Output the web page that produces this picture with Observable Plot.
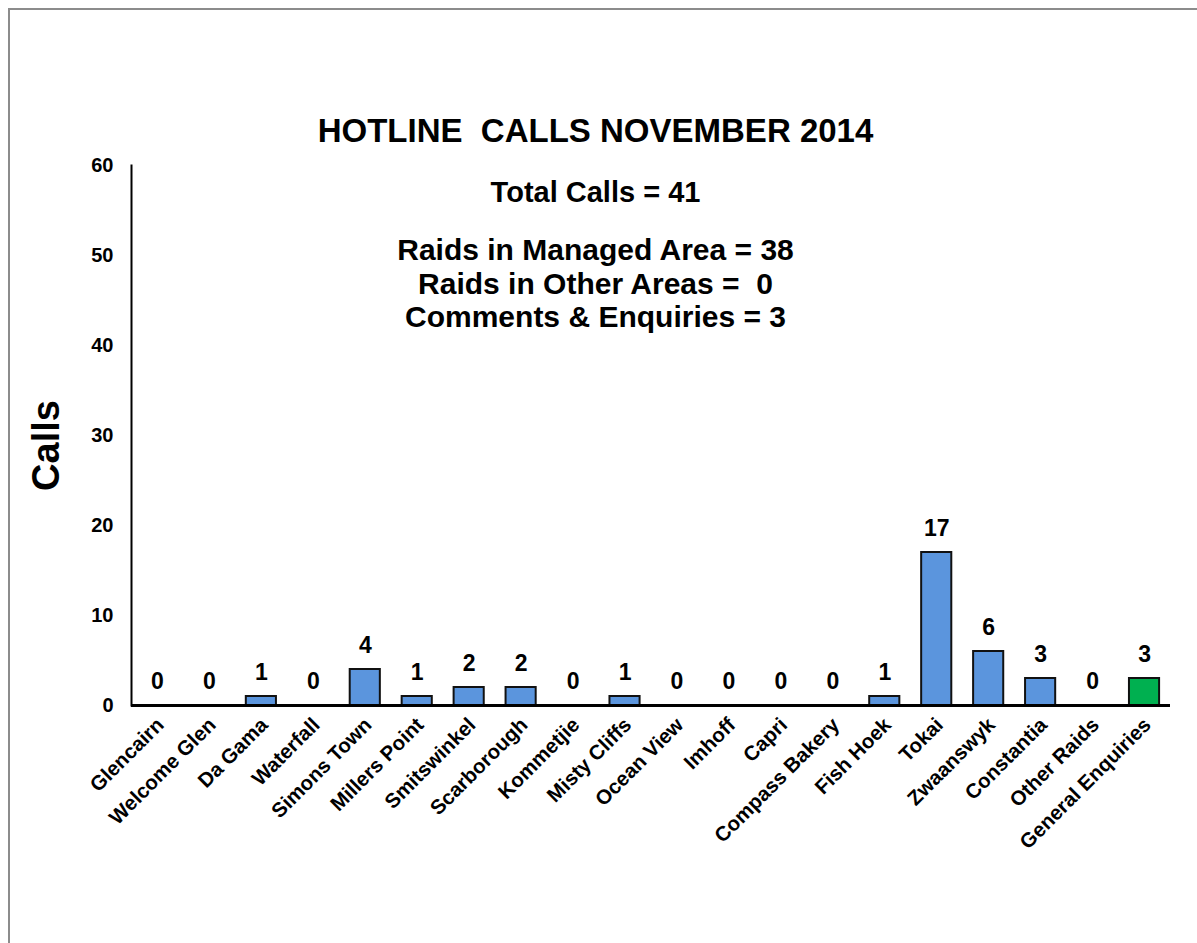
<!DOCTYPE html>
<html><head><meta charset="utf-8">
<script src="https://cdn.jsdelivr.net/npm/d3@7"></script>
<script src="https://cdn.jsdelivr.net/npm/@observablehq/plot@0.6"></script>
<style>
html,body{margin:0;padding:0;background:#fff;overflow:hidden;}
#wrap{position:relative;width:1197px;height:943px;overflow:hidden;}
#frame{position:absolute;left:8px;top:8px;width:1300px;height:1100px;border:2px solid #8c8c8c;box-sizing:border-box;}
#chart{position:absolute;left:0;top:0;}
</style></head><body>
<div id="wrap"><div id="frame"></div><div id="chart"></div></div>
<script>
const categories = ["Glencairn","Welcome Glen","Da Gama","Waterfall","Simons Town","Millers Point","Smitswinkel","Scarborough","Kommetjie","Misty Cliffs","Ocean View","Imhoff","Capri","Compass Bakery","Fish Hoek","Tokai","Zwaanswyk","Constantia","Other Raids","General Enquiries"];
const calls = [0,0,1,0,4,1,2,2,0,1,0,0,0,0,1,17,6,3,0,3];
const kinds = ["Raid","Raid","Raid","Raid","Raid","Raid","Raid","Raid","Raid","Raid","Raid","Raid","Raid","Raid","Raid","Raid","Raid","Raid","Raid","Enquiry"];
const yTicks = [0,10,20,30,40,50,60];
const titleText = "HOTLINE  CALLS NOVEMBER 2014";
const totalText = "Total Calls = 41";
const summaryLines = ["Raids in Managed Area = 38","Raids in Other Areas =  0","Comments & Enquiries = 3"];
const yLabel = "Calls";

const data = categories.map((c,i)=>({name:c, calls:calls[i], kind:kinds[i]}));
const font = "'Liberation Sans', Arial, sans-serif";

const chart = Plot.plot({
  width:1197, height:943,
  marginLeft:131, marginRight:27, marginTop:165, marginBottom:238,
  style:{fontFamily:font, background:"transparent", color:"#000"},
  x:{domain:categories, paddingInner:0.42, paddingOuter:0.21, round:false, label:null},
  y:{domain:[0,60], ticks:yTicks, label:null},
  color:{domain:["Raid","Enquiry"], range:["#5b95dd","#00b050"]},
  marks:[
    Plot.barY(data,{x:"name", y:"calls", fill:"kind", stroke:"#111", strokeWidth:2}),
    Plot.ruleY([0],{stroke:"#000", strokeWidth:3}),
    Plot.frame({anchor:"left", stroke:"#000", strokeWidth:2}),
    Plot.text(data,{x:"name", y:"calls", text:d=>String(d.calls), lineAnchor:"bottom", dy:-17, fontSize:23, fontWeight:"bold", fill:"#000"}),
    Plot.axisY({ticks:yTicks, tickSize:0, tickPadding:18, fontSize:20, fontWeight:"bold", label:null}),
    Plot.axisX({tickSize:0, tickPadding:16, tickRotate:-45, fontSize:20.5, fontWeight:"bold", label:null, dx:3}),
    Plot.text([yLabel],{frameAnchor:"left", rotate:-90, textAnchor:"middle", lineAnchor:"middle", dx:-85, dy:10, fontSize:38, fontWeight:"bold", fill:"#000"}),
    Plot.text([titleText],{frameAnchor:"top-left", textAnchor:"middle", lineAnchor:"middle", dx:464, dy:-34, fontSize:33, fontWeight:"bold", fill:"#000"}),
    Plot.text([totalText],{frameAnchor:"top-left", textAnchor:"middle", lineAnchor:"middle", dx:464, dy:27, fontSize:29, fontWeight:"bold", fill:"#000"}),
    Plot.text([summaryLines.join("\n")],{frameAnchor:"top-left", textAnchor:"middle", lineAnchor:"top", dx:464, dy:71, lineHeight:1.117, fontSize:30, fontWeight:"bold", fill:"#000"})
  ]
});
document.getElementById("chart").appendChild(chart);
</script>
</body></html>
